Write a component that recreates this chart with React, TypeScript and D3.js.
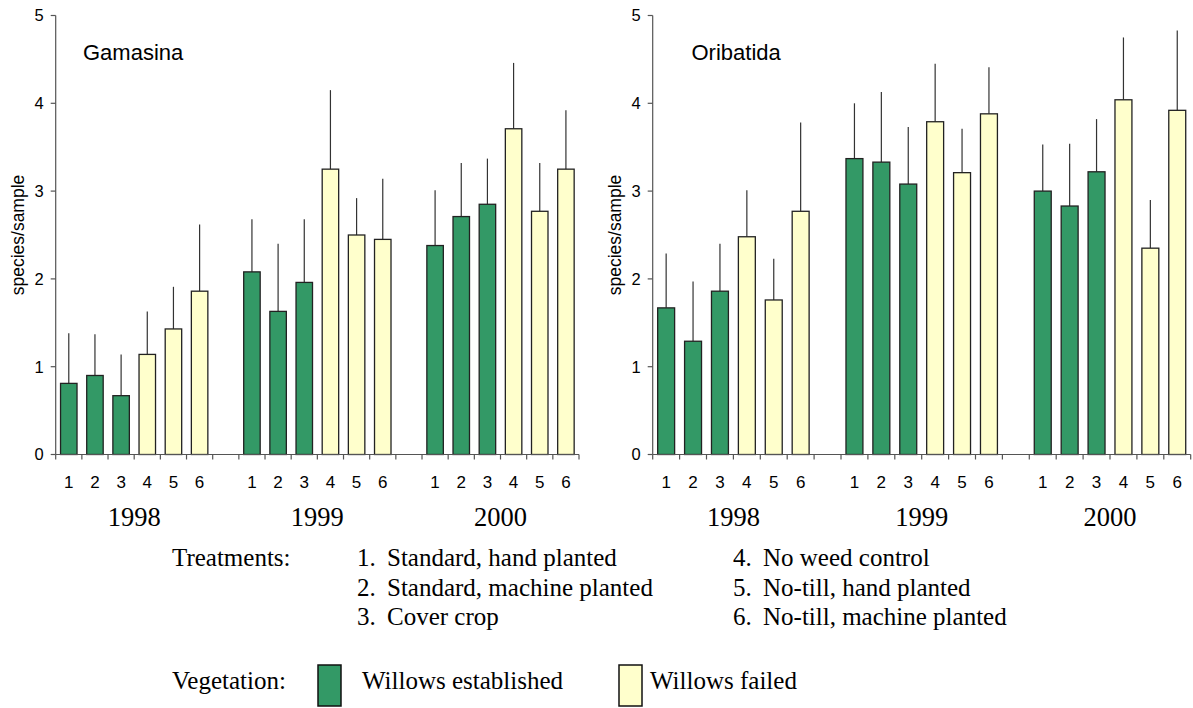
import React, { useEffect, useRef } from 'react';
import * as d3 from 'd3';

// Treatments 1-6 inside each year
const treatments = ['1', '2', '3', '4', '5', '6'];
const years = ['1998', '1999', '2000'];
const established = [true, true, true, false, false, false];

// bar heights (species/sample) by year, treatment 1..6
const gamasinaMeans = [
  [0.81, 0.9, 0.67, 1.14, 1.43, 1.86],
  [2.08, 1.63, 1.96, 3.25, 2.5, 2.45],
  [2.38, 2.71, 2.85, 3.71, 2.77, 3.25],
];
// top of the error line
const gamasinaUpper = [
  [1.38, 1.37, 1.14, 1.63, 1.91, 2.62],
  [2.68, 2.4, 2.68, 4.15, 2.92, 3.14],
  [3.01, 3.32, 3.37, 4.46, 3.32, 3.92],
];
const oribatidaMeans = [
  [1.67, 1.29, 1.86, 2.48, 1.76, 2.77],
  [3.37, 3.33, 3.08, 3.79, 3.21, 3.88],
  [3.0, 2.83, 3.22, 4.04, 2.35, 3.92],
];
const oribatidaUpper = [
  [2.29, 1.97, 2.4, 3.01, 2.23, 3.78],
  [4.0, 4.13, 3.73, 4.45, 3.71, 4.41],
  [3.53, 3.54, 3.82, 4.75, 2.9, 4.83],
];
const yTicks = [0, 1, 2, 3, 4, 5];

const treatmentNames = [
  'Standard, hand planted',
  'Standard, machine planted',
  'Cover crop',
  'No weed control',
  'No-till, hand planted',
  'No-till, machine planted',
];

const GREEN = '#339966';
const YELLOW = '#FFFFCC';
const SANS = 'Liberation Sans, Arial, sans-serif';
const SERIF = 'Liberation Serif, Times New Roman, serif';

const App = () => {
  const ref = useRef(null);

  useEffect(() => {
    const width = 1193;
    const height = 708;
    const svg = d3.select(ref.current);
    svg.selectAll('*').remove();
    svg.attr('width', width).attr('height', height);

    const y = d3.scaleLinear().domain([0, 5]).range([454.5, 15.5]);

    const drawPanel = (x0, x1, title, titleX, means, upper) => {
      const g = svg.append('g');
      // 20 slots: 6 bars, gap, 6 bars, gap, 6 bars
      const slots = d3.range(20);
      const x = d3.scaleBand().domain(slots).range([x0, x1]).padding(0);
      const bw = x.bandwidth();
      const barW = bw * 0.63;

      const rows = [];
      years.forEach((yr, yi) => {
        treatments.forEach((t, ti) => {
          rows.push({
            slot: yi * 7 + ti,
            value: means[yi][ti],
            upper: upper[yi][ti],
            est: established[ti],
            label: t,
          });
        });
      });

      // error lines
      g.selectAll('line.err')
        .data(rows)
        .enter()
        .append('line')
        .attr('x1', d => x(d.slot) + bw / 2)
        .attr('x2', d => x(d.slot) + bw / 2)
        .attr('y1', d => y(d.value))
        .attr('y2', d => y(d.upper))
        .attr('stroke', '#333')
        .attr('stroke-width', 1.2);

      // bars
      g.selectAll('rect.bar')
        .data(rows)
        .enter()
        .append('rect')
        .attr('x', d => x(d.slot) + (bw - barW) / 2)
        .attr('y', d => y(d.value))
        .attr('width', barW)
        .attr('height', d => y(0) - y(d.value))
        .attr('fill', d => (d.est ? GREEN : YELLOW))
        .attr('stroke', '#222')
        .attr('stroke-width', 1.3);

      // axes
      g.append('line')
        .attr('x1', x0).attr('x2', x0)
        .attr('y1', y(5)).attr('y2', y(0))
        .attr('stroke', '#555').attr('stroke-width', 1.2);
      g.append('line')
        .attr('x1', x0).attr('x2', x1)
        .attr('y1', y(0)).attr('y2', y(0))
        .attr('stroke', '#555').attr('stroke-width', 1.2);

      g.selectAll('line.yt')
        .data(yTicks)
        .enter()
        .append('line')
        .attr('x1', x0 - 5).attr('x2', x0)
        .attr('y1', d => y(d)).attr('y2', d => y(d))
        .attr('stroke', '#555').attr('stroke-width', 1.2);
      g.selectAll('text.yl')
        .data(yTicks)
        .enter()
        .append('text')
        .attr('x', x0 - 12)
        .attr('y', d => y(d))
        .attr('dy', '0.36em')
        .attr('text-anchor', 'end')
        .style('font-family', SANS)
        .style('font-size', '16.5px')
        .text(d => d);

      const boundaries = d3.range(21).map(i => x0 + i * bw);
      g.selectAll('line.xt')
        .data(boundaries)
        .enter()
        .append('line')
        .attr('x1', d => d).attr('x2', d => d)
        .attr('y1', y(0)).attr('y2', y(0) + 5)
        .attr('stroke', '#555').attr('stroke-width', 1.2);

      g.selectAll('text.xl')
        .data(rows)
        .enter()
        .append('text')
        .attr('x', d => x(d.slot) + bw / 2)
        .attr('y', 488)
        .attr('text-anchor', 'middle')
        .style('font-family', SANS)
        .style('font-size', '17px')
        .text(d => d.label);

      g.selectAll('text.yr')
        .data(years)
        .enter()
        .append('text')
        .attr('x', (d, i) => x(i * 7) + bw * 3)
        .attr('y', 526)
        .attr('text-anchor', 'middle')
        .style('font-family', SERIF)
        .style('font-size', '26.5px')
        .text(d => d);

      g.append('text')
        .attr('transform', `translate(${x0 - 38},${(y(0) + y(5)) / 2}) rotate(-90)`)
        .attr('dy', '0.36em')
        .attr('text-anchor', 'middle')
        .style('font-family', SANS)
        .style('font-size', '17.5px')
        .text('species/sample');

      g.append('text')
        .attr('x', titleX)
        .attr('y', 60)
        .style('font-family', SANS)
        .style('font-size', '22px')
        .text(title);
    };

    drawPanel(55.7, 579, 'Gamasina', 83, gamasinaMeans, gamasinaUpper);
    drawPanel(652.7, 1190.7, 'Oribatida', 691.5, oribatidaMeans, oribatidaUpper);

    // legend
    const lg = svg.append('g')
      .style('font-family', SERIF)
      .style('font-size', '25px');
    lg.append('text').attr('x', 172).attr('y', 566).text('Treatments:');
    treatmentNames.forEach((name, i) => {
      const col = i < 3 ? 0 : 1;
      const row = i % 3;
      const bx = col === 0 ? 357 : 733;
      const by = 566 + row * 29.5;
      lg.append('text').attr('x', bx).attr('y', by).text(`${i + 1}.`);
      lg.append('text').attr('x', bx + 30).attr('y', by).text(name);
    });
    lg.append('text').attr('x', 172).attr('y', 689).text('Vegetation:');
    const vegItems = [
      { label: 'Willows established', fill: GREEN, x: 318, tx: 362 },
      { label: 'Willows failed', fill: YELLOW, x: 619, tx: 650 },
    ];
    vegItems.forEach(v => {
      lg.append('rect')
        .attr('x', v.x).attr('y', 665)
        .attr('width', 23).attr('height', 41)
        .attr('fill', v.fill)
        .attr('stroke', '#111').attr('stroke-width', 1.5);
      lg.append('text').attr('x', v.tx).attr('y', 689).text(v.label);
    });

    return () => {
      svg.selectAll('*').remove();
    };
  }, []);

  return <svg ref={ref} style={{ position: 'absolute', left: 0, top: 0 }}></svg>;
};

export default App;
